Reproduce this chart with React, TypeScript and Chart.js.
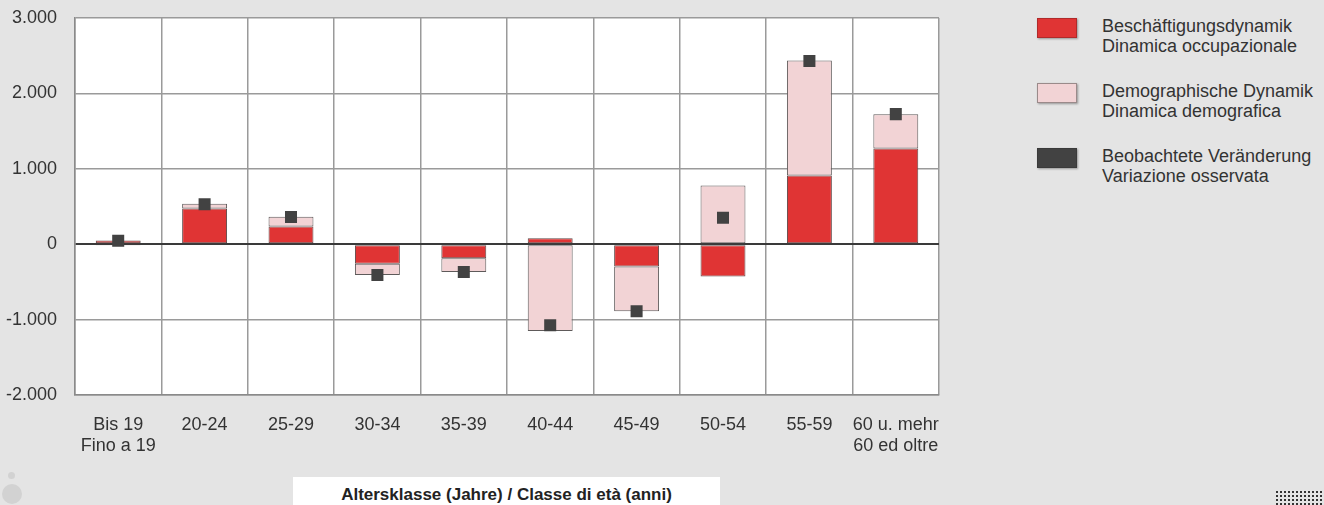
import { useEffect, useRef } from 'react';
import { Chart, registerables } from 'chart.js';

Chart.register(...registerables);

const categories: (string | string[])[] = [
  ['Bis 19', 'Fino a 19'],
  '20-24',
  '25-29',
  '30-34',
  '35-39',
  '40-44',
  '45-49',
  '50-54',
  '55-59',
  ['60 u. mehr', '60 ed oltre'],
];
const employment = [50, 475, 235, -260, -185, 80, -295, -430, 910, 1270];
const demographic = [-10, 60, 130, -150, -185, -1150, -595, 780, 1525, 455];
const observed = [45, 530, 360, -410, -370, -1075, -890, 350, 2430, 1725];

const yTickValues = [-2000, -1000, 0, 1000, 2000, 3000];
const yTickLabels = ['-2.000', '-1.000', '0', '1.000', '2.000', '3.000'];

const seriesNames = [
  ['Beschäftigungsdynamik', 'Dinamica occupazionale'],
  ['Demographische Dynamik', 'Dinamica demografica'],
  ['Beobachtete Veränderung', 'Variazione osservata'],
];
const axisTitle = 'Altersklasse (Jahre) / Classe di età (anni)';

const FONT = '"Liberation Sans", Arial, Helvetica, sans-serif';
const RED = '#e03434';
const PINK = '#f2d3d5';
const DARK = '#424242';
const GRID = '#9a9a9a';
const TEXT = '#333333';

const plotBg = {
  id: 'plotBg',
  beforeDraw(chart: any) {
    const { ctx, chartArea } = chart;
    ctx.save();
    ctx.fillStyle = '#ffffff';
    ctx.fillRect(chartArea.left, chartArea.top, chartArea.width, chartArea.height);
    ctx.restore();
  },
};

export default function App() {
  const ref = useRef<HTMLCanvasElement>(null);

  useEffect(() => {
    const chart = new Chart(ref.current as HTMLCanvasElement, {
      type: 'bar',
      data: {
        labels: categories as any,
        datasets: [
          {
            type: 'line',
            label: seriesNames[2].join(' '),
            data: observed,
            showLine: false,
            pointStyle: 'rect',
            pointRadius: 8.5,
            pointHoverRadius: 8.5,
            pointBackgroundColor: DARK,
            pointBorderColor: DARK,
            pointBorderWidth: 0,
            backgroundColor: DARK,
            borderColor: DARK,
            order: 0,
            stack: 'obs',
          } as any,
          {
            type: 'bar',
            label: seriesNames[0].join(' '),
            data: employment,
            backgroundColor: RED,
            borderColor: '#5e4848',
            borderWidth: 1,
            borderSkipped: false,
            barPercentage: 0.52,
            categoryPercentage: 1,
            order: 1,
            stack: 'dyn',
          } as any,
          {
            type: 'bar',
            label: seriesNames[1].join(' '),
            data: demographic,
            backgroundColor: PINK,
            borderColor: '#5e5a5a',
            borderWidth: 1,
            borderSkipped: false,
            barPercentage: 0.52,
            categoryPercentage: 1,
            order: 1,
            stack: 'dyn',
          } as any,
        ],
      },
      options: {
        responsive: false,
        animation: false,
        layout: { padding: { top: 18, right: 21, left: 0, bottom: 0 } },
        plugins: {
          legend: { display: false },
          tooltip: { enabled: false },
        },
        scales: {
          x: {
            stacked: true,
            grid: { color: GRID, lineWidth: 1.5, drawTicks: false, offset: true },
            border: { color: '#8a8a8a', width: 1.5 },
            ticks: {
              color: TEXT,
              font: { family: FONT, size: 18, lineHeight: 1.15 },
              padding: 19.5,
              maxRotation: 0,
              autoSkip: false,
            },
            afterFit: (s: any) => {
              s.height = 75;
              s.paddingLeft = 0;
              s.paddingRight = 0;
            },
          },
          y: {
            stacked: true,
            min: -2000,
            max: 3000,
            grid: {
              color: (c: any) => (c.tick && c.tick.value === 0 ? '#3a3a3a' : GRID),
              lineWidth: (c: any) => (c.tick && c.tick.value === 0 ? 2 : 1.5),
              drawTicks: false,
            },
            border: { color: '#8a8a8a', width: 1.5 },
            ticks: {
              stepSize: 1000,
              color: TEXT,
              font: { family: FONT, size: 18 },
              padding: 18,
              callback: (v: any) => {
                const i = yTickValues.indexOf(Number(v));
                return i >= 0 ? yTickLabels[i] : '';
              },
            },
            afterFit: (s: any) => {
              s.width = 75;
              s.paddingTop = 0;
              s.paddingBottom = 0;
            },
          },
        } as any,
      },
      plugins: [plotBg],
    });
    return () => chart.destroy();
  }, []);

  const legendColors = [
    { bg: RED, border: '#b02a2a' },
    { bg: PINK, border: '#9a8a8a' },
    { bg: DARK, border: '#3a3a3a' },
  ];

  return (
    <div
      style={{
        position: 'absolute',
        left: 0,
        top: 0,
        width: 1324,
        height: 505,
        background: '#e4e4e4',
        overflow: 'hidden',
        fontFamily: FONT,
      }}
    >
      <canvas
        ref={ref}
        width={960}
        height={470}
        style={{ position: 'absolute', left: 0, top: 0, width: 960, height: 470 }}
      />
      {seriesNames.map((lines, i) => (
        <div key={i}>
          <div
            style={{
              position: 'absolute',
              left: 1037,
              top: 18 + i * 65,
              width: 40,
              height: 20,
              boxSizing: 'border-box',
              background: legendColors[i].bg,
              border: `1px solid ${legendColors[i].border}`,
              boxShadow: '1px 1px 2px rgba(0,0,0,0.35)',
            }}
          />
          <div
            style={{
              position: 'absolute',
              left: 1102,
              top: 15.5 + i * 65,
              fontSize: 18,
              lineHeight: '20.5px',
              color: TEXT,
              whiteSpace: 'nowrap',
            }}
          >
            {lines.map((t, j) => (
              <div key={j}>{t}</div>
            ))}
          </div>
        </div>
      ))}
      <div
        style={{
          position: 'absolute',
          left: 293,
          top: 477,
          width: 427,
          height: 40,
          background: '#ffffff',
        }}
      />
      <div
        style={{
          position: 'absolute',
          left: 293,
          top: 485,
          width: 427,
          textAlign: 'center',
          fontSize: 17,
          lineHeight: '20px',
          fontWeight: 'bold',
          color: '#222222',
          whiteSpace: 'nowrap',
        }}
      >
        {axisTitle}
      </div>
      <div
        style={{
          position: 'absolute',
          left: 7.5,
          top: 471.5,
          width: 7,
          height: 7,
          borderRadius: '50%',
          background: '#d2d2d2',
        }}
      />
      <div
        style={{
          position: 'absolute',
          left: 2,
          top: 484,
          width: 20,
          height: 20,
          borderRadius: '50%',
          background: '#d2d2d2',
        }}
      />
      <div
        style={{
          position: 'absolute',
          left: 1275,
          top: 490,
          width: 49,
          height: 15,
          backgroundImage: 'radial-gradient(circle, #333 0.9px, transparent 1.3px)',
          backgroundSize: '4px 4px',
        }}
      />
    </div>
  );
}
